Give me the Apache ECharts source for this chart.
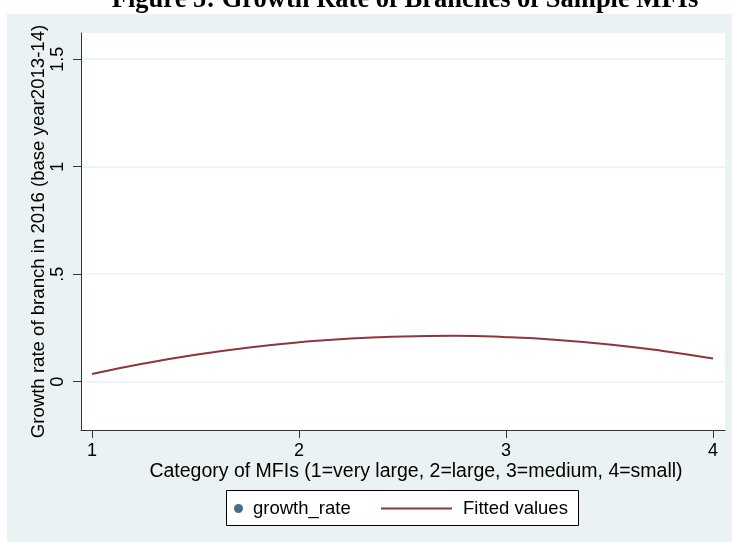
<!DOCTYPE html>
<html>
<head>
<meta charset="utf-8">
<title>Figure 5: Growth Rate of Branches of Sample MFIs</title>
<script src="https://cdn.jsdelivr.net/npm/echarts@6/dist/echarts.min.js"></script>
<style>
  html, body { margin: 0; padding: 0; background: #ffffff; }
  #chart { width: 732px; height: 542px; }
</style>
</head>
<body>
<div id="chart"></div>
<script>
// Axis ticks
const categoryTicks = [1, 2, 3, 4];
const valueTicks = [0, 0.5, 1, 1.5];
const valueTickLabels = ['0', '.5', '1', '1.5'];

// Quadratic fitted values of growth rate against MFI category
const fitX = [1.00, 1.25, 1.50, 1.75, 2.00, 2.25, 2.50, 2.75, 3.00, 3.25, 3.50, 3.75, 4.00];
const fitY = [0.036, 0.084, 0.125, 0.158, 0.183, 0.201, 0.210, 0.213, 0.207, 0.194, 0.173, 0.144, 0.108];

// Observed growth rates (no observations fall inside the plotted range)
const growthRate = [];

const seriesNames = ['growth_rate', 'Fitted values'];

const FONT = 'Liberation Sans, Arial, sans-serif';
const BG = '#EAF2F3';
const NAVY = '#1A476F';
const MAROON = '#90353B';

const chart = echarts.init(document.getElementById('chart'));

const fitted = fitX.map((x, i) => [x, fitY[i]]);

chart.setOption({
  animation: false,
  backgroundColor: '#ffffff',
  title: {
    text: 'Figure 5: Growth Rate of Branches of Sample MFIs',
    left: 400,
    top: -18,
    textAlign: 'center',
    textStyle: { fontFamily: 'Liberation Serif, Times New Roman, serif', fontWeight: 'bold', fontSize: 26.5, color: '#000' }
  },
  graphic: [
    { type: 'rect', z: -100, silent: true, shape: { x: 7, y: 14, width: 725, height: 528 }, style: { fill: BG } },
    { type: 'rect', z: 1, silent: true, shape: { x: 226.5, y: 490.5, width: 352, height: 35 }, style: { fill: '#ffffff', stroke: '#000', lineWidth: 1 } }
  ],
  grid: {
    left: 81, top: 33, right: 7, bottom: 112,
    show: true, backgroundColor: '#ffffff', borderWidth: 0
  },
  legend: [
    {
      data: [{ name: seriesNames[0], icon: 'circle' }],
      left: 234, top: 499, padding: 0,
      itemWidth: 9, itemHeight: 9,
      textStyle: { fontFamily: FONT, fontSize: 18.5, color: '#000', padding: [0, 0, 0, 5] }
    },
    {
      data: [{ name: seriesNames[1], icon: 'rect' }],
      left: 381, top: 499, padding: 0,
      itemWidth: 71, itemHeight: 2,
      textStyle: { fontFamily: FONT, fontSize: 18.5, color: '#000', padding: [0, 0, 0, 6] }
    }
  ],
  xAxis: {
    type: 'value',
    min: 0.947, max: 4.058,
    name: 'Category of MFIs (1=very large, 2=large, 3=medium, 4=small)',
    nameLocation: 'middle', nameGap: 31.5, nameMoveOverlap: false,
    nameTextStyle: { fontFamily: FONT, fontSize: 19.5, color: '#000', padding: [0, 0, 0, 26] },
    axisLine: { show: true, onZero: false, lineStyle: { color: '#333', width: 1 } },
    axisTick: { show: true, customValues: categoryTicks, length: 8, lineStyle: { color: '#333', width: 1 } },
    axisLabel: { customValues: categoryTicks, margin: 12, fontFamily: FONT, fontSize: 18, color: '#000' },
    splitLine: { show: false }
  },
  yAxis: {
    type: 'value',
    min: -0.225, max: 1.622,
    name: 'Growth rate of branch in 2016 (base year2013-14)',
    nameLocation: 'middle', nameGap: 33, nameRotate: 90, nameMoveOverlap: false,
    nameTextStyle: { fontFamily: FONT, fontSize: 18.6, color: '#000' },
    axisLine: { show: true, onZero: false, lineStyle: { color: '#333', width: 1 } },
    axisTick: { show: true, customValues: valueTicks, length: 8, lineStyle: { color: '#333', width: 1 } },
    axisLabel: {
      customValues: valueTicks, rotate: 90, margin: 14,
      fontFamily: FONT, fontSize: 18, color: '#000',
      formatter: v => valueTickLabels[valueTicks.indexOf(v)]
    },
    splitLine: { show: true, lineStyle: { color: BG, width: 1.5 } }
  },
  series: [
    {
      name: seriesNames[0], type: 'scatter',
      data: growthRate, symbolSize: 7,
      itemStyle: { color: NAVY }
    },
    {
      name: seriesNames[1], type: 'line',
      data: fitted, smooth: true, symbol: 'none',
      lineStyle: { color: MAROON, width: 2 },
      itemStyle: { color: MAROON }
    }
  ]
});
</script>
</body>
</html>
